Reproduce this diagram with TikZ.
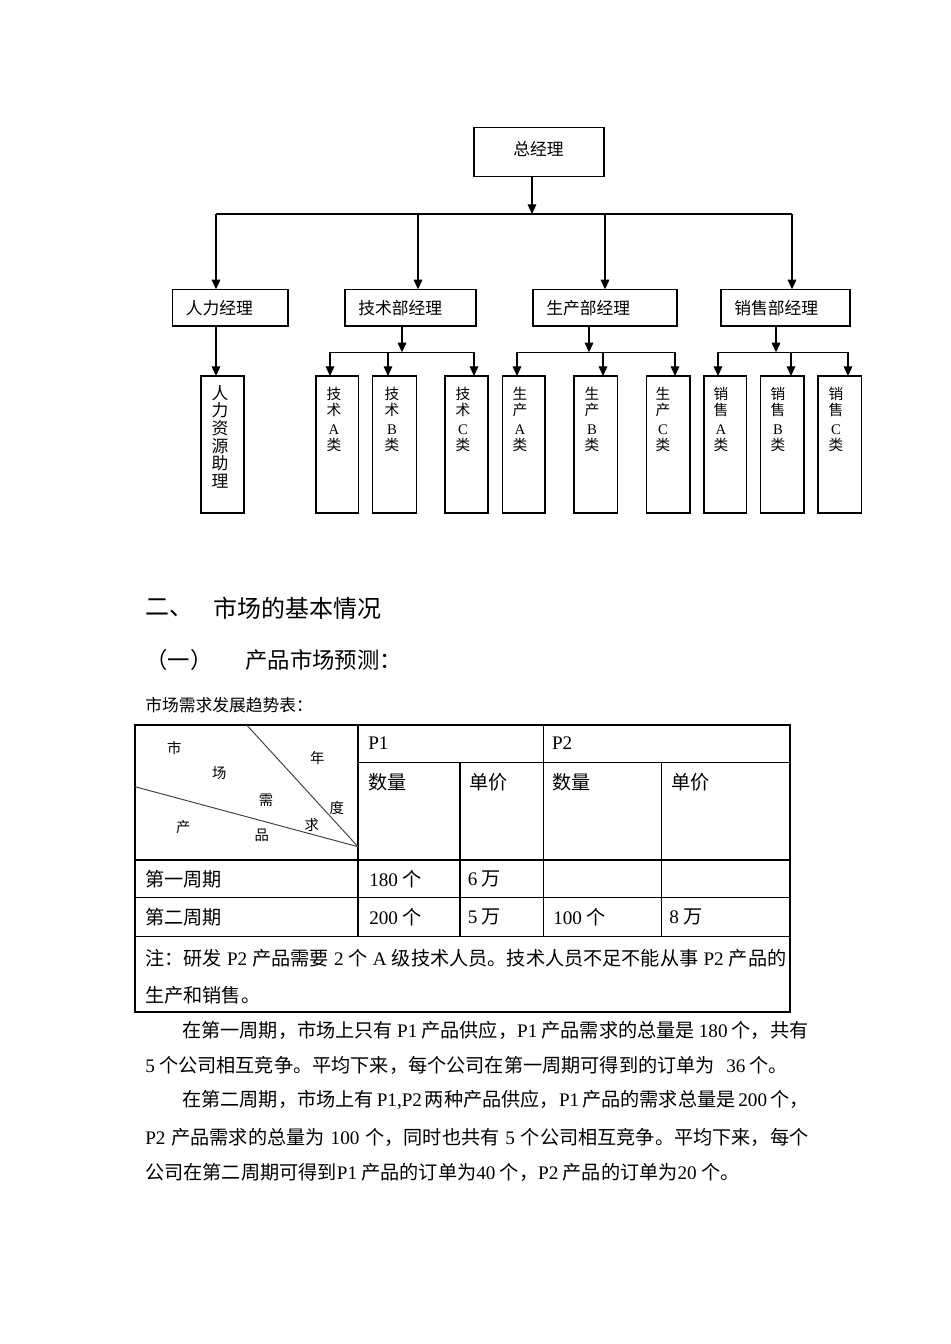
\documentclass[tikz,border=0pt]{standalone}
\usepackage{fontspec}
\setmainfont{Noto Sans CJK SC}
\newfontfamily\tmfont{Liberation Serif}
\newcommand\tm[1]{{\tmfont #1}}
\usetikzlibrary{arrows.meta,fit}
\XeTeXlinebreaklocale "zh"
\XeTeXlinebreakskip=0pt plus 1.5pt
\newdimen\pxu \pxu=0.62632pt
\tikzset{
  box/.style={draw, line width=0.9pt, inner sep=0pt, outer sep=0pt},
  ln/.style={line width=0.7pt},
  arr/.style={ln, -{Triangle[length=6pt,width=5.4pt]}},
  tl/.style={line width=0.7pt},
  dl/.style={line width=0.6pt, black!75},
  t105/.style={inner sep=0pt, font=\fontsize{10.5}{12}\selectfont},
  t10/.style={inner sep=0pt, font=\fontsize{9.2}{11}\selectfont},
  t9/.style={inner sep=0pt, font=\fontsize{9}{11}\selectfont},
  t12/.style={inner sep=0pt, anchor=west, font=\fontsize{12}{14}\selectfont},
  t14/.style={inner sep=0pt, anchor=west, font=\fontsize{14}{16}\selectfont},
  t15/.style={inner sep=0pt, anchor=west, font=\fontsize{15}{17}\selectfont},
}
\newcommand\subtxt[5]{%
  \node[t10] (#1-1) at (#2,394) {#3};
  \node[t10] (#1-2) at (#2,409.5) {#4};
  \node[t10] (#1-3) at (#2,429.5) {\tm{#5}};
  \node[t10] (#1-4) at (#2,445) {类};}
\begin{document}
\begin{tikzpicture}[x=0.62632pt, y=-0.62632pt]
\useasboundingbox[fill=white] (0,0) rectangle (950,1344);

% ---------- org chart boxes ----------
\node[box, fit={(474,127.3) (604,176.7)}] (gm) {};
\node[t105] (gm-t) at (538.5,149) {总经理};

\node[box, fit={(172.6,289.3) (288,326)}] (hr) {};
\node[box, fit={(345,289.3) (476,326)}] (tm) {};
\node[box, fit={(533,289.3) (677,326)}] (pm) {};
\node[box, fit={(721,289.3) (850,326)}] (sm) {};
\node[t105, anchor=west] (hr-t) at (185.6,308) {人力经理};
\node[t105, anchor=west] (tm-t) at (358,308) {技术部经理};
\node[t105, anchor=west] (pm-t) at (546,308) {生产部经理};
\node[t105, anchor=west] (sm-t) at (734,308) {销售部经理};

\node[box, fit={(201,376) (244,513)}] (hra) {};
\node[box, fit={(316,376) (358.7,513)}] (ta) {};
\node[box, fit={(372.7,376) (416.7,513)}] (tb) {};
\node[box, fit={(445,376) (488,513)}] (tc) {};
\node[box, fit={(502.7,376) (545,513)}] (pa) {};
\node[box, fit={(574,376) (617.7,513)}] (pb) {};
\node[box, fit={(646.7,376) (690,513)}] (pc) {};
\node[box, fit={(704,376) (746.7,513)}] (sa) {};
\node[box, fit={(760.7,376) (804,513)}] (sb) {};
\node[box, fit={(818,376) (861.7,513)}] (sc) {};

\foreach \c [count=\i] in {人,力,资,源,助,理}
  \node[t105] (hra-\i) at (220,{393+17.6*(\i-1)}) {\c};
\subtxt{ta}{334}{技}{术}{A}
\subtxt{tb}{392}{技}{术}{B}
\subtxt{tc}{463}{技}{术}{C}
\subtxt{pa}{520}{生}{产}{A}
\subtxt{pb}{592}{生}{产}{B}
\subtxt{pc}{663}{生}{产}{C}
\subtxt{sa}{721}{销}{售}{A}
\subtxt{sb}{778}{销}{售}{B}
\subtxt{sc}{836}{销}{售}{C}

% ---------- connectors ----------
\coordinate (hb) at (532,214);
\coordinate (h1) at (216,214);
\coordinate (h2) at (418,214);
\coordinate (h3) at (605,214);
\coordinate (h4) at (792,214);
\draw[ln] (h1) -- (h4);
\draw[arr] (gm.south -| hb) -- (hb);
\draw[arr] (h1) -- (hr.north -| h1);
\draw[arr] (h2) -- (tm.north -| h2);
\draw[arr] (h3) -- (pm.north -| h3);
\draw[arr] (h4) -- (sm.north -| h4);

\draw[arr] (hr.south -| h1) -- (hra.north -| h1);

\coordinate (tj) at (402,352.3);
\coordinate (t1) at (330,352.3);
\coordinate (t2) at (388,352.3);
\coordinate (t3) at (474,352.3);
\draw[arr] (tm.south -| tj) -- (tj);
\draw[ln] (t1) -- (t3);
\draw[arr] (t1) -- (ta.north -| t1);
\draw[arr] (t2) -- (tb.north -| t2);
\draw[arr] (t3) -- (tc.north -| t3);

\coordinate (pj) at (589,352.3);
\coordinate (p1) at (517,352.3);
\coordinate (p2) at (603,352.3);
\coordinate (p3) at (675,352.3);
\draw[arr] (pm.south -| pj) -- (pj);
\draw[ln] (p1) -- (p3);
\draw[arr] (p1) -- (pa.north -| p1);
\draw[arr] (p2) -- (pb.north -| p2);
\draw[arr] (p3) -- (pc.north -| p3);

\coordinate (sj) at (776,352.3);
\coordinate (s1) at (718,352.3);
\coordinate (s2) at (791,352.3);
\coordinate (s3) at (848,352.3);
\draw[arr] (sm.south -| sj) -- (sj);
\draw[ln] (s1) -- (s3);
\draw[arr] (s1) -- (sa.north -| s1);
\draw[arr] (s2) -- (sb.north -| s2);
\draw[arr] (s3) -- (sc.north -| s3);

% ---------- headings ----------
\node[t15] (h-a) at (145,608) {二、};
\node[t15] (h-b) at (213,608) {市场的基本情况};
\node[t14] (h-c) at (145,660) {（一）};
\node[t14] (h-d) at (245,660) {产品市场预测：};
\node[inner sep=0pt, anchor=west, font=\fontsize{10.5}{12}\selectfont] (h-e) at (145,705) {市场需求发展趋势表：};

% ---------- table ----------
\draw[tl] (135,725) rectangle (790,1012);
\draw[tl] (358,762.7) -- (790,762.7);
\draw[tl] (135,860) -- (790,860);
\draw[tl] (135,897.7) -- (790,897.7);
\draw[tl] (135,936.7) -- (790,936.7);
\draw[tl] (358,725) -- (358,936.7);
\draw[tl] (543.3,725) -- (543.3,936.7);
\draw[tl] (460,762.7) -- (460,936.7);
\draw[tl] (661.7,762.7) -- (661.7,936.7);
\draw[dl] (246.7,725) -- (358,846.7);
\draw[dl] (135,786.7) -- (358,846.7);

\node[t9] (d1) at (174.3,748.3) {市};
\node[t9] (d2) at (317.3,758.3) {年};
\node[t9] (d3) at (219.3,772.7) {场};
\node[t9] (d4) at (266,800) {需};
\node[t9] (d5) at (336.7,808.3) {度};
\node[t9] (d6) at (183.3,826.7) {产};
\node[t9] (d7) at (311.7,825) {求};
\node[t9] (d8) at (261.7,835) {品};

\node[t12] (c-p1) at (368,743) {\tm{P1}};
\node[t12] (c-p2) at (551.7,743) {\tm{P2}};
\node[t12] (c-q1) at (368,782) {数量};
\node[t12] (c-u1) at (469.3,782) {单价};
\node[t12] (c-q2) at (551.7,782) {数量};
\node[t12] (c-u2) at (670.7,782) {单价};

\node[t12] (r1-a) at (145,879) {第一周期};
\node[t12] (r1-b) at (369,879) {\tm{180} 个};
\node[t12] (r1-c) at (467.6,879) {\tm{6} 万};
\node[t12] (r2-a) at (145,917) {第二周期};
\node[t12] (r2-b) at (369,917) {\tm{200} 个};
\node[t12] (r2-c) at (467.6,917) {\tm{5} 万};
\node[t12] (r2-d) at (553,917) {\tm{100} 个};
\node[t12] (r2-e) at (669,917) {\tm{8} 万};

\node[t12] (n1) at (145,958) {\hbox to 641\pxu{注：研发 \tm{P2} 产品需要 \tm{2} 个 \tm{A} 级技术人员。技术人员不足不能从事 \tm{P2} 产品的}};
\node[t12] (n2) at (145,995) {生产和销售。};

% ---------- paragraphs ----------
\node[t12] (l1) at (182,1030) {\hbox to 626\pxu{在第一周期，市场上只有 \tm{P1} 产品供应，\tm{P1} 产品需求的总量是 \tm{180} 个，共有}};
\node[t12] (l2) at (145,1065) {\tm{5} 个公司相互竞争。平均下来，每个公司在第一周期可得到的订单为\hspace{0.6em}\tm{36} 个。};
\node[t12] (l3) at (182,1100) {\hbox to 626\pxu{在第二周期，市场上有 \tm{P1,P2} 两种产品供应，\tm{P1} 产品的需求总量是 \tm{200} 个，}};
\node[t12] (l4) at (145,1137) {\hbox to 663\pxu{\tm{P2} 产品需求的总量为 \tm{100} 个，同时也共有 \tm{5} 个公司相互竞争。平均下来，每个}};
\node[t12] (l5) at (145,1172) {公司在第二周期可得到\tm{P1} 产品的订单为\tm{40} 个，\tm{P2} 产品的订单为\tm{20} 个。};
\end{tikzpicture}
\end{document}
